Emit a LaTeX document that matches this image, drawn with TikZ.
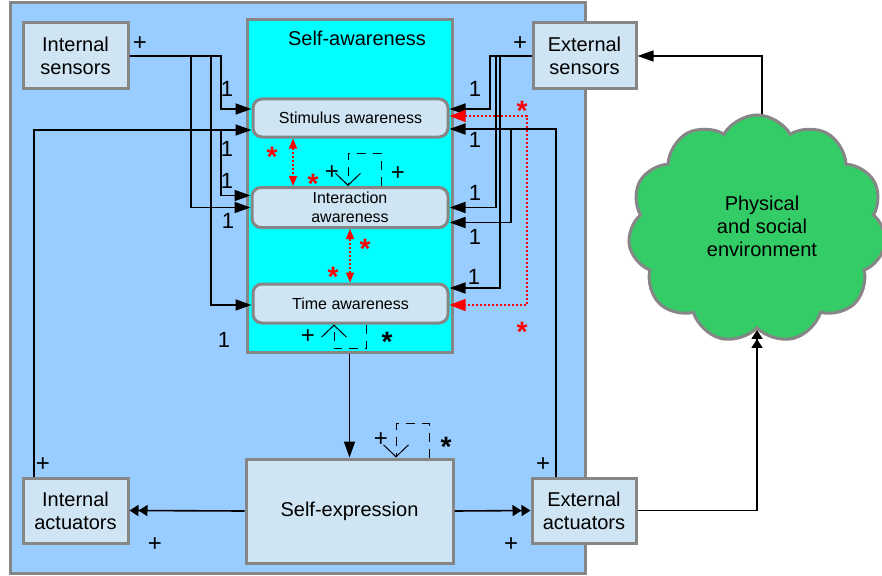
\documentclass[tikz,border=0pt]{standalone}
\usepackage{fontspec}
\setmainfont{Liberation Sans}
\usetikzlibrary{arrows.meta,shapes.symbols}
\definecolor{outerfill}{HTML}{99CCFF}
\definecolor{safill}{HTML}{00FFFF}
\definecolor{boxfill}{HTML}{CFE5F4}
\definecolor{bgray}{HTML}{868686}
\definecolor{cloudgreen}{HTML}{33CC66}
\definecolor{starred}{HTML}{FF0000}
\newcommand\tightstar{\raisebox{-0.42em}[0.31em][0pt]{*}}
\tikzset{
  box/.style={draw=bgray, line width=3pt, fill=boxfill, inner sep=0pt, align=center, font=\fontsize{20}{23}\selectfont},
  aw/.style={box, rounded corners=9pt, font=\fontsize{16}{19}\selectfont},
  conn/.style={line width=1.6pt, -{Triangle[length=16pt,width=11pt]}},
  dbl/.style={line width=1.6pt, -{Triangle[length=9pt,width=11pt]Triangle[length=9pt,width=11pt]}},
  redbig/.style={starred, line width=1.3pt, dash pattern=on 2pt off 2pt, {Triangle[length=16pt,width=12pt]}-{Triangle[length=16pt,width=12pt]}},
  redsmall/.style={starred, line width=1.3pt, dash pattern=on 2pt off 2pt, {Triangle[length=10pt,width=8pt]}-{Triangle[length=10pt,width=8pt]}},
  loopline/.style={line width=1pt, dash pattern=on 9pt off 7pt, -{Straight Barb[length=12pt,width=25pt,line width=1pt]}},
  lab/.style={inner sep=0pt, font=\fontsize{22}{22}\selectfont},
  plus/.style={inner sep=0pt, font=\fontsize{24}{24}\selectfont},
  star/.style={inner sep=0pt, font=\fontsize{28}{28}\selectfont\bfseries},
  rstar/.style={star, text=starred}
}
\begin{document}
\begin{tikzpicture}[x=1pt,y=-1pt]
\useasboundingbox (0,0) rectangle (882,575);
% containers
\node[box, fill=outerfill, minimum width=575pt, minimum height=570pt] (outer) at (297.5,288) {};
\node[box, fill=safill, minimum width=205pt, minimum height=332pt] (sa) at (349.5,186) {};
\node[inner sep=0pt, font=\fontsize{20}{23}\selectfont] (satitle) at (357,38) {Self-awareness};
% cloud
\node[cloud, draw=bgray, line width=3pt, fill=cloudgreen, cloud puffs=11, cloud puff arc=120, aspect=1.1, minimum width=258pt, minimum height=228pt, inner sep=0pt] (cloud) at (757,229) {};
\node[inner sep=0pt, align=center, font=\fontsize{20}{23}\selectfont] (cloudtext) at (762,226) {Physical\\and social\\environment};
% boxes
\node[box, minimum width=105pt, minimum height=66pt] (intsens) at (75.5,56) {Internal\\sensors};
\node[box, minimum width=103pt, minimum height=66pt] (extsens) at (584.5,56) {External\\sensors};
\node[box, minimum width=105pt, minimum height=65pt] (intact) at (75.5,510.5) {Internal\\actuators};
\node[box, minimum width=104pt, minimum height=65pt] (extact) at (584,510.5) {External\\actuators};
\node[box, minimum width=207pt, minimum height=104pt] (selfexp) at (349.5,511) {Self-expression};
\node[aw, minimum width=195pt, minimum height=38pt] (stim) at (350.5,118) {Stimulus awareness};
\node[aw, minimum width=196pt, minimum height=40pt] (inter) at (350,207.5) {Interaction\\awareness};
\node[aw, minimum width=195pt, minimum height=39pt] (time) at (350.5,303.5) {Time awareness};
% left inputs
\draw[conn] (intsens.east) -- (221,56) |- ([yshift=9pt]stim.west);
\draw[conn] (191,56) |- (inter.west);
\draw[conn] (211,56) |- ([yshift=-1.5pt]time.west);
\draw[conn] ([xshift=-41.5pt]intact.north) |- ([yshift=-12pt]stim.west);
\draw[conn] (221,130) |- ([yshift=12pt]inter.west);
% right inputs
\draw[conn] (extsens.west) -- (490,56) |- ([yshift=9pt]stim.east);
\draw[conn] (496,56) |- (inter.east);
\draw[conn] (500,56) |- ([yshift=15.5pt]time.east);
\draw[conn] ([xshift=-28pt]extact.north) |- ([yshift=-11pt]stim.east);
\draw[conn] (511,129) |- ([yshift=-15pt]inter.east);
% red links
\draw[redbig] ([yshift=2pt]stim.east) -- (527,116) -- (527,305) -- ([yshift=-1.5pt]time.east);
\draw[redsmall] ([xshift=-57.5pt]stim.south) -- ([xshift=-57pt]inter.north);
\draw[redsmall] (inter.south) -- (inter.south |- time.north);
% main flow
\draw[conn] (sa.south) -- (selfexp.north);
\draw[dbl] (selfexp.west) -- (intact.east);
\draw[dbl] (selfexp.east) -- (extact.west);
\draw[dbl] (extact.east) -| (cloud.south);
\draw[conn] ([xshift=5pt]cloud.north) |- (extsens.east);
% self loops
\draw[loopline] ([xshift=31pt]inter.north) -- ++(0,-33) -| ([xshift=-2pt]inter.north);
\draw[loopline] ([xshift=15.5pt]time.south) -- ++(0,24) -| ([xshift=-16.5pt]time.south);
\draw[loopline] ([xshift=79.5pt]selfexp.north) -- ++(0,-34) -| ([xshift=46.5pt]selfexp.north);
% plus labels
\node[plus] (p1) at (140,44) {+};
\node[plus] (p2) at (520,44) {+};
\node[plus] (p3) at (43,465) {+};
\node[plus] (p4) at (155,545) {+};
\node[plus] (p5) at (511,545) {+};
\node[plus] (p6) at (543,465) {+};
\node[plus] (p7) at (332,173) {+};
\node[plus] (p8) at (398,174) {+};
\node[plus] (p9) at (308,337) {+};
\node[plus] (p10) at (381,440) {+};
% black stars
\node[star] (s1) at (387,335) {\tightstar};
\node[star] (s2) at (446,440) {\tightstar};
% red stars
\node[rstar] (r1) at (272,150) {\tightstar};
\node[rstar] (r2) at (313,177) {\tightstar};
\node[rstar] (r3) at (365,242) {\tightstar};
\node[rstar] (r4) at (333,270) {\tightstar};
\node[rstar] (r5) at (522,104) {\tightstar};
\node[rstar] (r6) at (522,325) {\tightstar};
% ones
\node[lab] (o1) at (227,89) {1};
\node[lab] (o2) at (227,149) {1};
\node[lab] (o3) at (227,181) {1};
\node[lab] (o4) at (228,221) {1};
\node[lab] (o5) at (224,340) {1};
\node[lab] (o6) at (475,89) {1};
\node[lab] (o7) at (475,140) {1};
\node[lab] (o8) at (475,193) {1};
\node[lab] (o9) at (475,237) {1};
\node[lab] (o10) at (474,277) {1};
\end{tikzpicture}
\end{document}
